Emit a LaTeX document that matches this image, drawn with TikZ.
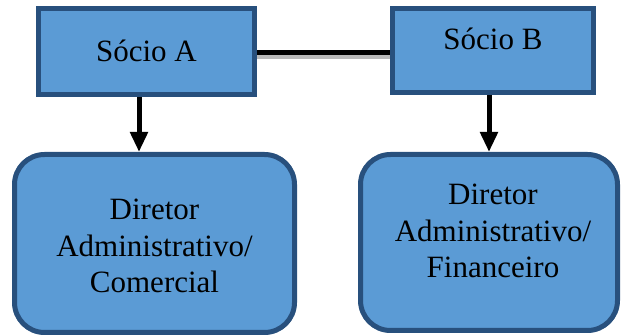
\documentclass[tikz,border=0pt]{standalone}
\usepackage{fontspec}
\setmainfont{Liberation Serif}
\newfontfamily\timesfont{Liberation Serif}
\usetikzlibrary{arrows.meta}
\definecolor{boxfill}{HTML}{5B9BD5}
\definecolor{boxline}{HTML}{28507D}
\begin{document}
\begin{tikzpicture}[x=1pt,y=-1pt,
  boxstyle/.style={draw=boxline,fill=boxfill,line width=5pt,inner sep=0pt},
  labelstyle/.style={font=\timesfont\fontsize{31}{36.5}\selectfont,align=center,inner sep=0pt},
  arrowstyle/.style={line width=5pt,-{Triangle[length=20pt,width=17pt]}}]
\useasboundingbox (0,0) rectangle (621,336);
% top boxes
\node[boxstyle,minimum width=216pt,minimum height=86pt] (A) at (146.5,51.5) {};
\node[boxstyle,minimum width=201pt,minimum height=84pt] (B) at (493,50.5) {};
% bottom boxes
\node[boxstyle,rounded corners=30pt,minimum width=280pt,minimum height=178pt] (C) at (154.5,243.5) {};
\node[boxstyle,rounded corners=30pt,minimum width=257pt,minimum height=176pt] (D) at (489,242.5) {};
% labels
\node[labelstyle,anchor=base] (tA) at (146.5,61.7) {Sócio A};
\node[labelstyle,anchor=base] (tB) at (493,50) {Sócio B};
\node[labelstyle] (tC) at (154.5,246.25) {Diretor\\Administrativo/\\Comercial};
\node[labelstyle] (tD) at (493,231.25) {Diretor\\Administrativo/\\Financeiro};
% connector A-B
\draw[line width=5pt] ([yshift=-1pt]A.east) -- ([yshift=-2pt]B.west);
\draw[line width=4pt,gray!55] ([yshift=-5.8pt]A.east) -- ([yshift=-6.8pt]B.west);
% arrows
\draw[arrowstyle] ([xshift=-7.5pt]A.south) -- ([xshift=-7.5pt]A.south |- C.north);
\draw[arrowstyle] ([xshift=-4pt]B.south) -- ([xshift=-4pt]B.south |- D.north);
\end{tikzpicture}
\end{document}
